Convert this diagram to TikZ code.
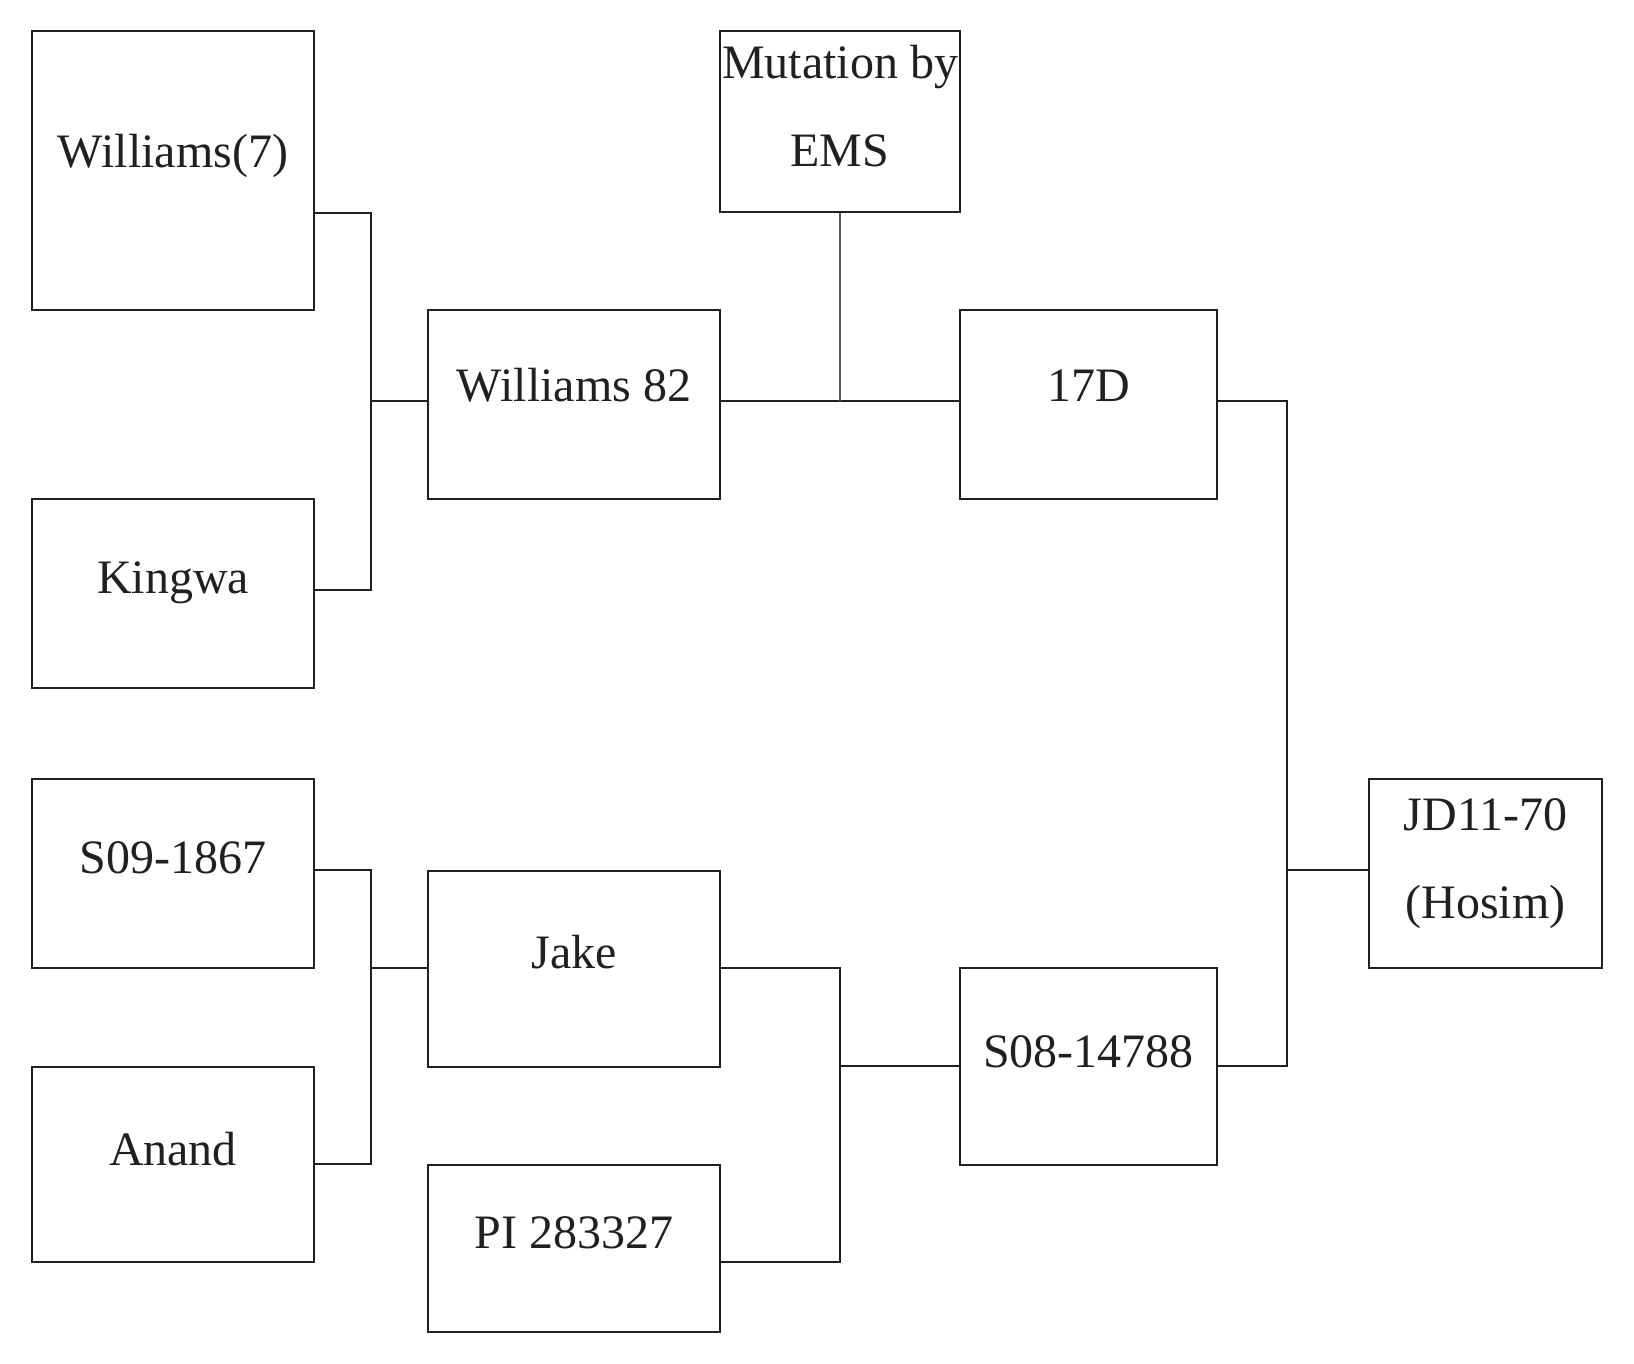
\documentclass[tikz,border=0pt]{standalone}
\usepackage{fontspec}
\setmainfont{Liberation Serif}
\definecolor{ink}{HTML}{231F20}
\begin{document}
\begin{tikzpicture}[x=1pt,y=-1pt,
  box/.style={draw=ink, line width=1.8pt, inner sep=0pt, fill=none},
  lab/.style={font=\fontsize{48}{58}\selectfont, text=ink, anchor=base, inner sep=0pt},
  wire/.style={draw=ink, line width=1.8pt},
  thinwire/.style={draw=ink!75, line width=1.1pt}]
\useasboundingbox (0,0) rectangle (1634,1364);
% boxes
\node[box, minimum width=282pt, minimum height=279pt] (w7) at (173,170.5) {};
\node[box, minimum width=282pt, minimum height=189pt] (king) at (173,593.5) {};
\node[box, minimum width=292pt, minimum height=189pt] (w82) at (574,404.5) {};
\node[box, minimum width=240pt, minimum height=181pt] (mut) at (840,121.5) {};
\node[box, minimum width=257pt, minimum height=189pt] (d17) at (1088.5,404.5) {};
\node[box, minimum width=282pt, minimum height=189pt] (s09) at (173,873.5) {};
\node[box, minimum width=282pt, minimum height=195pt] (anand) at (173,1164.5) {};
\node[box, minimum width=292pt, minimum height=196pt] (jake) at (574,969) {};
\node[box, minimum width=292pt, minimum height=167pt] (pi) at (574,1248.5) {};
\node[box, minimum width=257pt, minimum height=197pt] (s08) at (1088.5,1066.5) {};
\node[box, minimum width=233pt, minimum height=189pt] (jd) at (1485.5,873.5) {};
% labels
\node[lab] (tw7) at (173,168) {Williams(7)};
\node[lab] (tking) at (173,593) {Kingwa};
\node[lab] (tw82) at (574,402) {Williams 82};
\node[lab] (tmut1) at (840,79) {Mutation by};
\node[lab] (tmut2) at (840,167) {EMS};
\node[lab] (td17) at (1088.5,402) {17D};
\node[lab] (ts09) at (173,873) {S09-1867};
\node[lab] (tanand) at (173,1165) {Anand};
\node[lab] (tjake) at (574,968) {Jake};
\node[lab] (tpi) at (574,1248) {PI 283327};
\node[lab] (ts08) at (1088.5,1067) {S08-14788};
\node[lab] (tjd1) at (1485.5,830) {JD11-70};
\node[lab] (tjd2) at (1485.5,918) {(Hosim)};
% bus coordinates
\coordinate (b1t) at (371,213);
\coordinate (b1m) at (371,401);
\coordinate (b1b) at (371,590);
\coordinate (m1) at (840,401);
\coordinate (r1t) at (1287,401);
\coordinate (r1m) at (1287,870);
\coordinate (r1b) at (1287,1066);
\coordinate (b2t) at (371,870);
\coordinate (b2m) at (371,968);
\coordinate (b2b) at (371,1164);
\coordinate (b3t) at (840,968);
\coordinate (b3m) at (840,1066);
\coordinate (b3b) at (840,1262);
% connectors
\draw[wire] (b1t -| w7.east) -- (b1t) -- (b1b) -- (b1b -| king.east);
\draw[wire] (b1m) -- (b1m -| w82.west);
\draw[wire] (m1 -| w82.east) -- (m1 -| d17.west);
\draw[thinwire] (mut.south) -- (m1);
\draw[wire] (r1t -| d17.east) -- (r1t) -- (r1b) -- (r1b -| s08.east);
\draw[wire] (r1m) -- (r1m -| jd.west);
\draw[wire] (b2t -| s09.east) -- (b2t) -- (b2b) -- (b2b -| anand.east);
\draw[wire] (b2m) -- (b2m -| jake.west);
\draw[wire] (b3t -| jake.east) -- (b3t) -- (b3b) -- (b3b -| pi.east);
\draw[wire] (b3m) -- (b3m -| s08.west);
\end{tikzpicture}
\end{document}
